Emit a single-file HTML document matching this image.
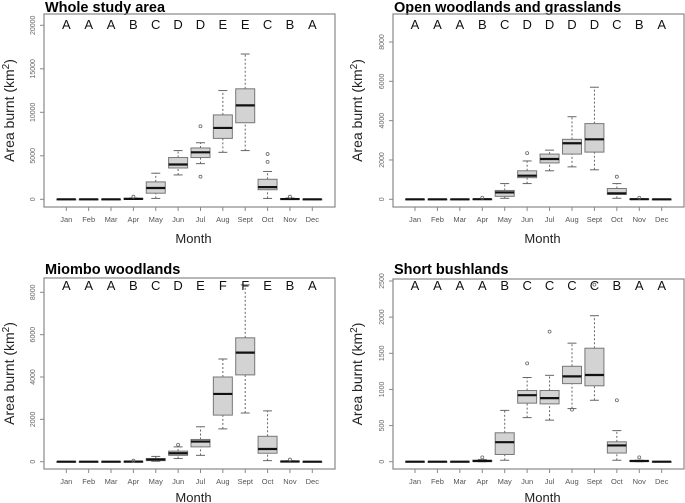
<!DOCTYPE html>
<html><head><meta charset="utf-8">
<style>
body{margin:0;background:#fff;}
svg{display:block;font-family:"Liberation Sans",sans-serif;}
</style></head>
<body>
<svg id="c" width="685" height="503" viewBox="0 0 685 503"></svg>
<script>
const months=["Jan","Feb","Mar","Apr","May","Jun","Jul","Aug","Sept","Oct","Nov","Dec"];
// [whiskerLow, q1, median, q3, whiskerHigh]
const wholeStats=[[0,0,0,0,0],[0,0,0,0,0],[0,0,0,0,0],[0,20,50,100,150],[100,700,1300,2000,3000],[2800,3600,4000,4800,5600],[4100,4800,5400,5900,6500],[5400,7000,8200,9700,12500],[5600,8800,10800,12700,16700],[100,1100,1400,2300,3200],[0,0,30,80,150],[0,0,0,0,0]];
const wholeOut=[[],[],[],[300],[],[],[8400,2600],[],[],[4300,5200],[300],[]];
const wholeLetters=["A","A","A","B","C","D","D","E","E","C","B","A"];
const openStats=[[0,0,0,0,0],[0,0,0,0,0],[0,0,0,0,0],[0,0,5,10,20],[50,150,350,450,800],[800,1100,1200,1450,1950],[1450,1850,2050,2300,2500],[1650,2300,2850,3050,4200],[1500,2400,3050,3850,5700],[50,250,300,550,800],[0,0,5,15,30],[0,0,0,0,0]];
const openOut=[[],[],[],[80],[],[2350],[],[],[],[1150],[80],[]];
const openLetters=["A","A","A","B","C","D","D","D","D","C","B","A"];
const miomboStats=[[0,0,0,0,0],[0,0,0,0,0],[0,0,0,0,0],[0,0,5,10,20],[20,50,100,150,250],[150,300,400,500,700],[300,700,950,1050,1650],[1550,2200,3200,4000,4850],[2300,4100,5150,5850,8350],[50,400,600,1200,2400],[0,0,10,20,40],[0,0,0,0,0]];
const miomboOut=[[],[],[],[50],[],[800],[],[],[],[],[100],[]];
const miomboLetters=["A","A","A","B","C","D","E","F","F","E","B","A"];
const shortStats=[[0,0,0,0,0],[0,0,0,0,0],[0,0,0,0,0],[0,5,10,20,30],[20,100,270,400,710],[610,810,920,985,1165],[575,800,880,985,1195],[735,1080,1180,1320,1640],[850,1050,1200,1570,2020],[20,120,225,275,430],[0,5,10,15,20],[0,0,0,0,0]];
const shortOut=[[],[],[],[60],[],[1360],[1800],[720],[2450],[850],[60],[]];
const shortLetters=["A","A","A","A","B","C","C","C","C","B","A","A"];
const wholeTicks=[0,5000,10000,15000,20000];
const openTicks=[0,2000,4000,6000,8000];
const miomboTicks=[0,2000,4000,6000,8000];
const shortTicks=[0,500,1000,1500,2000,2500];

const NS="http://www.w3.org/2000/svg";
const svg=document.getElementById('c');
function mk(tag,attrs,parent,text){const e=document.createElementNS(NS,tag);for(const k in attrs)e.setAttribute(k,attrs[k]);if(text!==undefined)e.textContent=text;parent.appendChild(e);return e;}

function panel(p){
  const g=mk('g',{},svg);
  
  
  const y=v=>p.y0-(v/p.ymax)*(p.y0-p.ytop);
  const x=i=>p.xJan+i*(p.xDec-p.xJan)/11;
  const t=mk('text',{x:p.L+1,y:p.titleY,'font-size':14.5,'font-weight':'bold',fill:'#000'},g,p.title);
  
  
  const fr=mk('rect',{x:p.L,y:p.T,width:p.R-p.L,height:p.B-p.T,fill:'none',stroke:'#888','stroke-width':1.2},g);
  
  
  // y ticks
  p.ticks.forEach(v=>{
    const yy=y(v);
    mk('line',{x1:p.L-4,x2:p.L,y1:yy,y2:yy,stroke:'#888'},g);
    const tl=mk('text',{x:p.L-9,y:yy,'font-size':7,fill:'#666','text-anchor':'middle',transform:`rotate(-90 ${p.L-9} ${yy})`},g,String(v));
    
    
  });
  const yt=mk('text',{x:p.ytX,y:(p.T+p.B)/2,'font-size':14,fill:'#222','text-anchor':'middle',transform:`rotate(-90 ${p.ytX} ${(p.T+p.B)/2})`},g);
  
  
  yt.innerHTML='Area burnt (km<tspan dy="-5" font-size="10">2</tspan><tspan dy="5">)</tspan>';
  const xt=mk('text',{x:(p.L+p.R)/2+4,y:p.monthY,'font-size':13,fill:'#222','text-anchor':'middle'},g,'Month');
  
  
  const hw=9.5;
  months.forEach((m,i)=>{
    const cx=x(i), s=p.stats[i];
    mk('line',{x1:cx,x2:cx,y1:p.B,y2:p.B+4,stroke:'#888'},g);
    const ml=mk('text',{x:cx,y:p.B+15,'font-size':7.5,fill:'#555','text-anchor':'middle'},g,m);
    
    
    const bg=mk('g',{},g);
    
    
    mk('line',{x1:cx,x2:cx,y1:y(s[0]),y2:y(s[1]),stroke:'#666','stroke-dasharray':'2,2'},bg);
    mk('line',{x1:cx,x2:cx,y1:y(s[3]),y2:y(s[4]),stroke:'#666','stroke-dasharray':'2,2'},bg);
    mk('line',{x1:cx-4.5,x2:cx+4.5,y1:y(s[0]),y2:y(s[0]),stroke:'#666'},bg);
    mk('line',{x1:cx-4.5,x2:cx+4.5,y1:y(s[4]),y2:y(s[4]),stroke:'#666'},bg);
    mk('rect',{x:cx-hw,y:y(s[3]),width:2*hw,height:Math.max(0.5,y(s[1])-y(s[3])),fill:'#d3d3d3',stroke:'#777','stroke-width':1},bg);
    mk('line',{x1:cx-hw,x2:cx+hw,y1:y(s[2]),y2:y(s[2]),stroke:'#111','stroke-width':2.2},bg);
    p.out[i].forEach(v=>{mk('circle',{cx:cx,cy:y(v),r:1.5,fill:'none',stroke:'#666','stroke-width':0.8},bg);});
    const lt=mk('text',{x:cx,y:p.letterY,'font-size':13,fill:'#111','text-anchor':'middle'},g,p.letters[i]);
    
    
  });
}
const topL={L:44,R:335,T:14,B:207,xJan:66.3,xDec:312.3,y0:199.3,titleY:12,letterY:29,monthY:243,ytX:14};
const topR={L:393,R:684,T:14,B:207,xJan:415,xDec:661.7,y0:199.3,titleY:12,letterY:29,monthY:243,ytX:362};
const botL={L:44,R:335,T:278,B:469,xJan:66.3,xDec:312.3,y0:461.7,titleY:274,letterY:290,monthY:502,ytX:14};
const botR={L:393,R:684,T:279,B:469,xJan:415,xDec:661.7,y0:461.7,titleY:274,letterY:290,monthY:502,ytX:362};
panel(Object.assign({name:'panel-whole-study-area',title:'Whole study area',stats:wholeStats,out:wholeOut,letters:wholeLetters,ticks:wholeTicks,ymax:20000,ytop:25.3},topL));
panel(Object.assign({name:'panel-open-woodlands',title:'Open woodlands and grasslands',stats:openStats,out:openOut,letters:openLetters,ticks:openTicks,ymax:8000,ytop:42},topR));
panel(Object.assign({name:'panel-miombo-woodlands',title:'Miombo woodlands',stats:miomboStats,out:miomboOut,letters:miomboLetters,ticks:miomboTicks,ymax:8000,ytop:292.3},botL));
panel(Object.assign({name:'panel-short-bushlands',title:'Short bushlands',stats:shortStats,out:shortOut,letters:shortLetters,ticks:shortTicks,ymax:2500,ytop:281},botR));
</script>
</body></html>
